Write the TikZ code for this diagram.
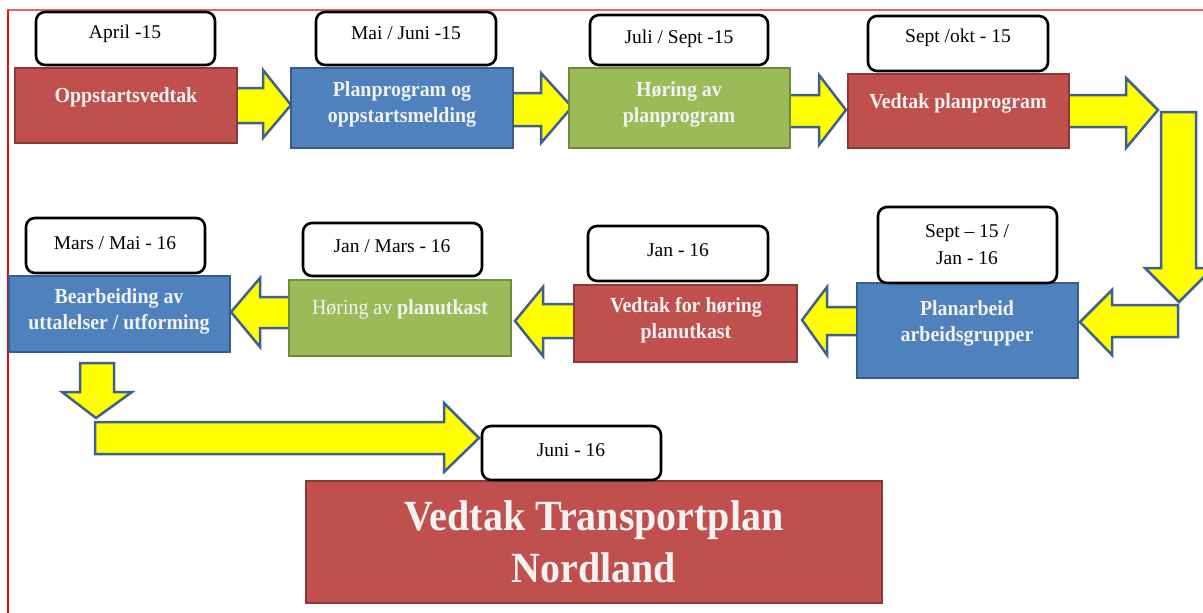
\documentclass[tikz,border=0pt]{standalone}
\usepackage{fontspec}
\setmainfont{Liberation Serif}
\newfontfamily\condserif[FakeStretch=0.93]{Liberation Serif}
\definecolor{cred}{HTML}{C0504D}
\definecolor{credd}{HTML}{8C3836}
\definecolor{cblue}{HTML}{4F81BD}
\definecolor{cblued}{HTML}{385D8A}
\definecolor{cgreen}{HTML}{9BBB59}
\definecolor{cgreend}{HTML}{71893F}
\definecolor{carrow}{HTML}{3F6190}
\definecolor{ctext}{HTML}{F2F2F2}
\definecolor{ftop}{HTML}{E06666}
\definecolor{fleft}{HTML}{E01010}
\definecolor{cyellow}{HTML}{FFFF00}
\begin{document}
\begin{tikzpicture}[x=1pt,y=-1pt,
  box/.style={line width=2.5pt, inner sep=0pt, outer sep=0pt, anchor=north west},
  rbox/.style={box, fill=cred, draw=credd},
  bbox/.style={box, fill=cblue, draw=cblued},
  gbox/.style={box, fill=cgreen, draw=cgreend},
  datebox/.style={draw=black, fill=white, line width=2.6pt, rounded corners=9pt, inner sep=0pt, outer sep=0pt, anchor=north west},
  datetext/.style={font=\fontsize{19.5}{27}\selectfont, align=center, text=black, inner sep=0pt},
  boxtext/.style={font=\condserif\fontsize{21.4}{26}\selectfont\bfseries, align=center, text=ctext, inner sep=0pt},
  bigtext/.style={font=\condserif\fontsize{43}{52}\selectfont\bfseries, align=center, text=ctext, inner sep=0pt},
  blockarrow/.style={fill=cyellow, draw=carrow, line width=2.5pt, line join=miter}]
\useasboundingbox (0,0) rectangle (1203,613);
% frame
\draw[ftop, line width=1.2pt] (7,10) -- (1203,10);
\draw[fleft, line width=1.5pt] (8,10) -- (8,613);
% block arrows
\draw[blockarrow] (230,88) -- (263,88) -- (263,70) -- (291,105) -- (263,138) -- (263,123) -- (230,123) -- cycle;
\draw[blockarrow] (506,93) -- (541,93) -- (541,73) -- (572,107) -- (541,143) -- (541,126) -- (506,126) -- cycle;
\draw[blockarrow] (784,95) -- (819,95) -- (819,75) -- (846,110) -- (819,145) -- (819,127) -- (784,127) -- cycle;
\draw[blockarrow] (1063,95) -- (1126,95) -- (1126,78) -- (1158,110) -- (1126,148) -- (1126,127) -- (1063,127) -- cycle;
\draw[blockarrow] (1161,112) -- (1196,112) -- (1196,268) -- (1213,268) -- (1179,302) -- (1145,268) -- (1161,268) -- cycle;
\draw[blockarrow] (1178,305) -- (1112,305) -- (1112,290) -- (1080,322) -- (1112,355) -- (1112,337) -- (1178,337) -- cycle;
\draw[blockarrow] (862,307) -- (827,307) -- (827,287) -- (802,320) -- (827,355) -- (827,335) -- (862,335) -- cycle;
\draw[blockarrow] (579,304) -- (543,304) -- (543,287) -- (515,321) -- (543,356) -- (543,338) -- (579,338) -- cycle;
\draw[blockarrow] (296,297) -- (260,297) -- (260,278) -- (231,312) -- (260,347) -- (260,328) -- (296,328) -- cycle;
\draw[blockarrow] (80,363) -- (114,363) -- (114,392) -- (132,392) -- (96,418) -- (62,392) -- (80,392) -- cycle;
\draw[blockarrow] (95,422) -- (444,422) -- (444,403) -- (479,438) -- (444,472) -- (444,454) -- (95,454) -- cycle;
% main boxes
\node[rbox, minimum width=222, minimum height=75] (b1) at (15,68) {};
\node[bbox, minimum width=222, minimum height=80] (b2) at (291,68) {};
\node[gbox, minimum width=221, minimum height=80] (b3) at (569,68) {};
\node[rbox, minimum width=221, minimum height=74] (b4) at (848,74) {};
\node[bbox, minimum width=221, minimum height=95] (b5) at (857,283) {};
\node[rbox, minimum width=223, minimum height=77] (b6) at (574,285) {};
\node[gbox, minimum width=222, minimum height=76] (b7) at (289,280) {};
\node[bbox, minimum width=221, minimum height=76] (b8) at (9,276) {};
\node[rbox, minimum width=576, minimum height=122] (b9) at (306,481) {};
% box texts
\node[boxtext] (t1) at (126,97) {Oppstartsvedtak};
\node[boxtext] (t2) at (402,104) {Planprogram og\\oppstartsmelding};
\node[boxtext] (t3) at (679,104) {Høring av\\planprogram};
\node[boxtext] (t4) at (958,103) {Vedtak planprogram};
\node[boxtext] (t5) at (967,323) {Planarbeid\\arbeidsgrupper};
\node[boxtext] (t6) at (686,320) {Vedtak for høring\\planutkast};
\node[boxtext] (t7) at (400,309) {\mdseries Høring av \bfseries planutkast};
\node[boxtext] (t8) at (119,311) {Bearbeiding av\\uttalelser / utforming};
\node[bigtext] (t9) at (594,542) {Vedtak Transportplan\\Nordland};
% date boxes
\node[datebox, minimum width=179, minimum height=53] (d1) at (36,12) {};
\node[datebox, minimum width=180, minimum height=53] (d2) at (316,12) {};
\node[datebox, minimum width=178, minimum height=50] (d3) at (590,15) {};
\node[datebox, minimum width=180, minimum height=55] (d4) at (868,16) {};
\node[datebox, minimum width=179, minimum height=76] (d5) at (878,207) {};
\node[datebox, minimum width=180, minimum height=55] (d6) at (588,226) {};
\node[datebox, minimum width=179, minimum height=53] (d7) at (303,223) {};
\node[datebox, minimum width=179, minimum height=55] (d8) at (26,218) {};
\node[datebox, minimum width=179, minimum height=54] (d9) at (482,426) {};
% date texts
\node[datetext] (dt1) at (125,34) {April -15};
\node[datetext] (dt2) at (406,33) {Mai / Juni -15};
\node[datetext] (dt3) at (679,39) {Juli / Sept -15};
\node[datetext] (dt4) at (958,38) {Sept /okt - 15};
\node[datetext] (dt5) at (967,245) {Sept – 15 /\\Jan - 16};
\node[datetext] (dt6) at (678,250) {Jan - 16};
\node[datetext] (dt7) at (392,246) {Jan / Mars - 16};
\node[datetext] (dt8) at (115,243) {Mars / Mai - 16};
\node[datetext] (dt9) at (571,450) {Juni - 16};
\end{tikzpicture}
\end{document}
